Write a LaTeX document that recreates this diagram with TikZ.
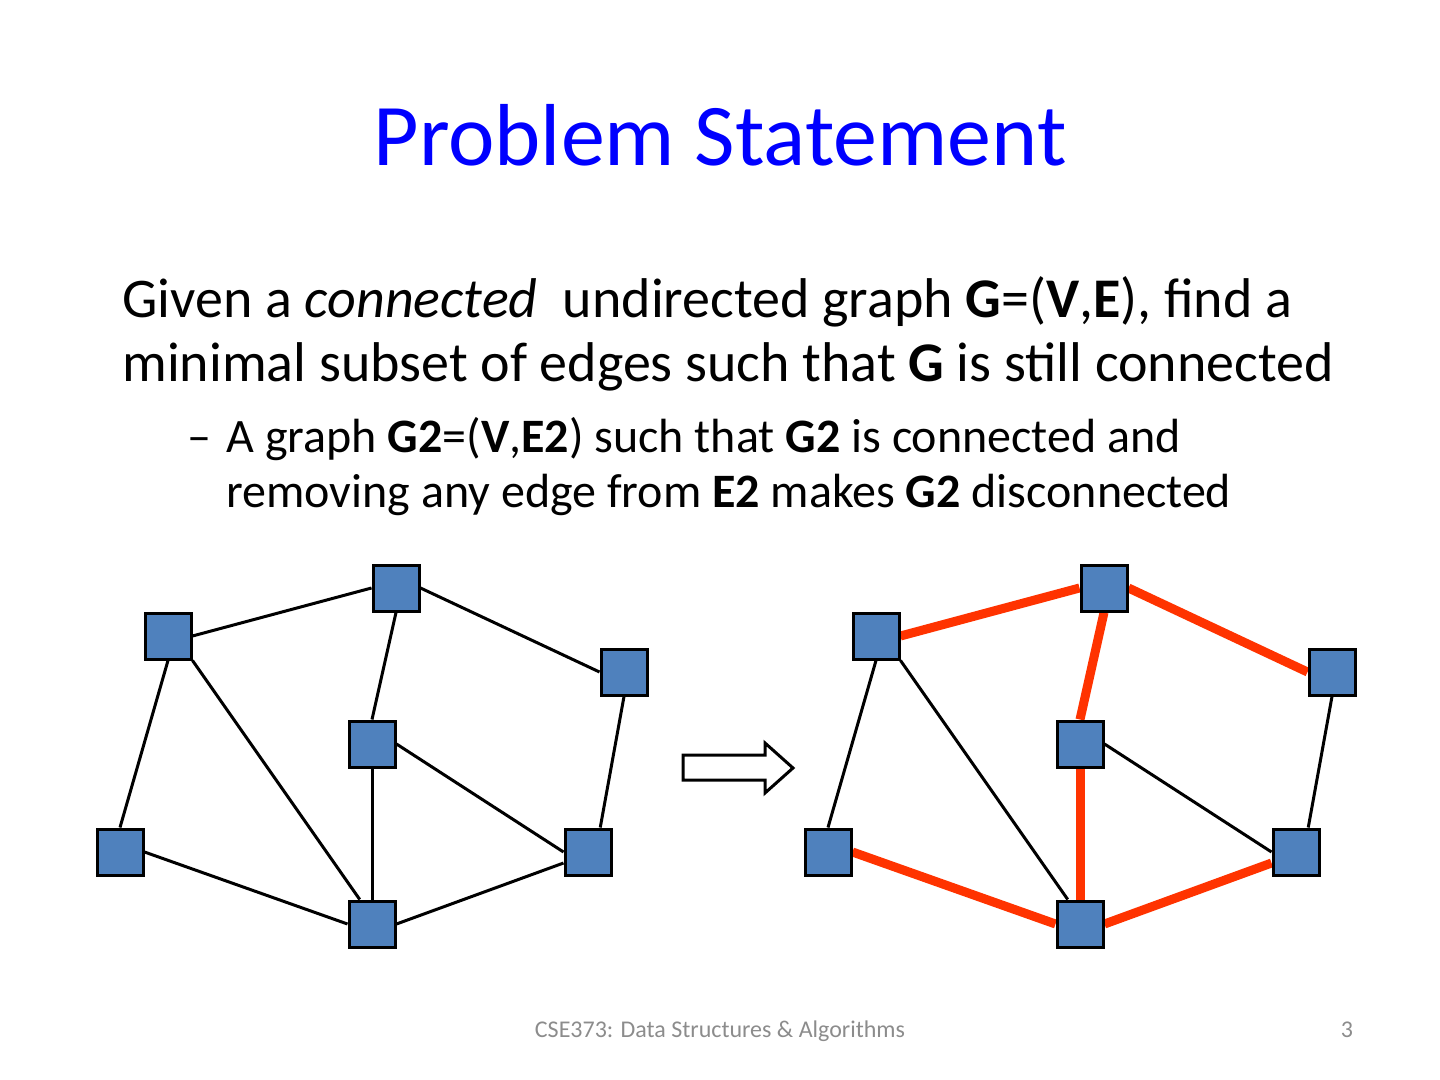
\documentclass[tikz,border=0pt]{standalone}
\usepackage{fontspec}
\setmainfont{Carlito}
\usetikzlibrary{
  calc,        % 连接点的插值
  backgrounds  % 边画在方块下面
}
\definecolor{nodeblue}{HTML}{4F81BD}
\definecolor{treered}{HTML}{FF3300}
\definecolor{footgray}{HTML}{8C8C8C}
\tikzset{
  vertex/.style={
    rectangle,
    draw=black,
    fill=nodeblue,
    line width=1.5pt,
    minimum size=23pt,
    inner sep=0pt
  },
  plain edge/.style={
    line width=1.5pt,
    black
  },
  tree edge/.style={
    line width=4.5pt,
    treered
  },
  title text/.style={
    font=\fontsize{44}{53}\selectfont,
    text=blue,
    anchor=base,
    inner sep=0pt
  },
  body text/.style={
    font=\fontsize{28}{34}\selectfont,
    anchor=base west,
    inner sep=0pt
  },
  sub text/.style={
    font=\fontsize{24}{29}\selectfont,
    anchor=base west,
    inner sep=0pt
  },
  foot text/.style={
    font=\fontsize{12}{14}\selectfont,
    text=footgray,
    anchor=base,
    inner sep=0pt
  }
}

\begin{document}
\begin{tikzpicture}[x=0.5pt, y=-0.5pt] % 以像素为单位：1440 x 1080 的幻灯片
  \useasboundingbox (0,0) rectangle (1440,1080); % 固定整页大小

  % 标题
  \node[title text] (title) at (720,166) {Problem Statement};

  % 正文与子项
  \node[body text] (line1) at (122,318) {Given a \textit{connected}\ \ undirected graph \textbf{G}=(\textbf{V},\textbf{E}), find a};
  \node[body text] (line2) at (122,382) {minimal subset of edges such that \textbf{G} is still connected};
  \node[sub text] (dash) at (187,452) {–};
  \node[sub text] (sub1) at (226,452) {A graph \textbf{G2}=(\textbf{V},\textbf{E2}) such that \textbf{G2} is connected and};
  \node[sub text] (sub2) at (226,508) {removing any edge from \textbf{E2} makes \textbf{G2} disconnected};

  % 两个图的顶点：左图前缀 l，右图前缀 r（右移 708）
  \foreach \n/\x/\y in {a/168/636, b/396/588, c/624/672, d/372/744, e/120/852, f/588/852, g/372/924} {
    \node[vertex] (l\n) at (\x,\y) {};
    \node[vertex] (r\n) at (\x+708,\y) {};
  }

  \begin{scope}[on background layer]
    % 左图：全部边
    \draw[plain edge] (la.east) -- (lb.west);
    \draw[plain edge] (la.south) -- (le.north);
    \draw[plain edge] (la.south east) -- ($(lg.north west)!0.5!(lg.north)$);
    \draw[plain edge] (lb.south) -- (ld.north);
    \draw[plain edge] (lb.east) -- (lc.west);
    \draw[plain edge] (lc.south) -- ($(lf.north)!0.5!(lf.north east)$);
    \draw[plain edge] (ld.east) -- (lf.west);
    \draw[plain edge] (ld.south) -- (lg.north);
    \draw[plain edge] (le.east) -- (lg.west);
    \draw[plain edge] (lg.east) -- ($(lf.west)!0.45!(lf.south west)$);

    % 右图：生成树的边标红加粗
    \draw[tree edge] (ra.east) -- (rb.west);
    \draw[plain edge] (ra.south) -- (re.north);
    \draw[plain edge] (ra.south east) -- ($(rg.north west)!0.5!(rg.north)$);
    \draw[tree edge] (rb.south) -- (rd.north);
    \draw[tree edge] (rb.east) -- (rc.west);
    \draw[plain edge] (rc.south) -- ($(rf.north)!0.5!(rf.north east)$);
    \draw[plain edge] (rd.east) -- (rf.west);
    \draw[tree edge] (rd.south) -- (rg.north);
    \draw[tree edge] (re.east) -- (rg.west);
    \draw[tree edge] (rg.east) -- ($(rf.west)!0.45!(rf.south west)$);
  \end{scope}

  % 中间的空心箭头
  \draw[line width=1.5pt, fill=white] (683,755) -- (765,755) -- (765,743) -- (793,768)
    -- (765,793) -- (765,780) -- (683,780) -- cycle;

  % 页脚
  \node[foot text] (footer) at (720,1037) {CSE373: Data Structures \& Algorithms};
  \node[foot text] (pagenum) at (1347,1037) {3};
\end{tikzpicture}
\end{document}
